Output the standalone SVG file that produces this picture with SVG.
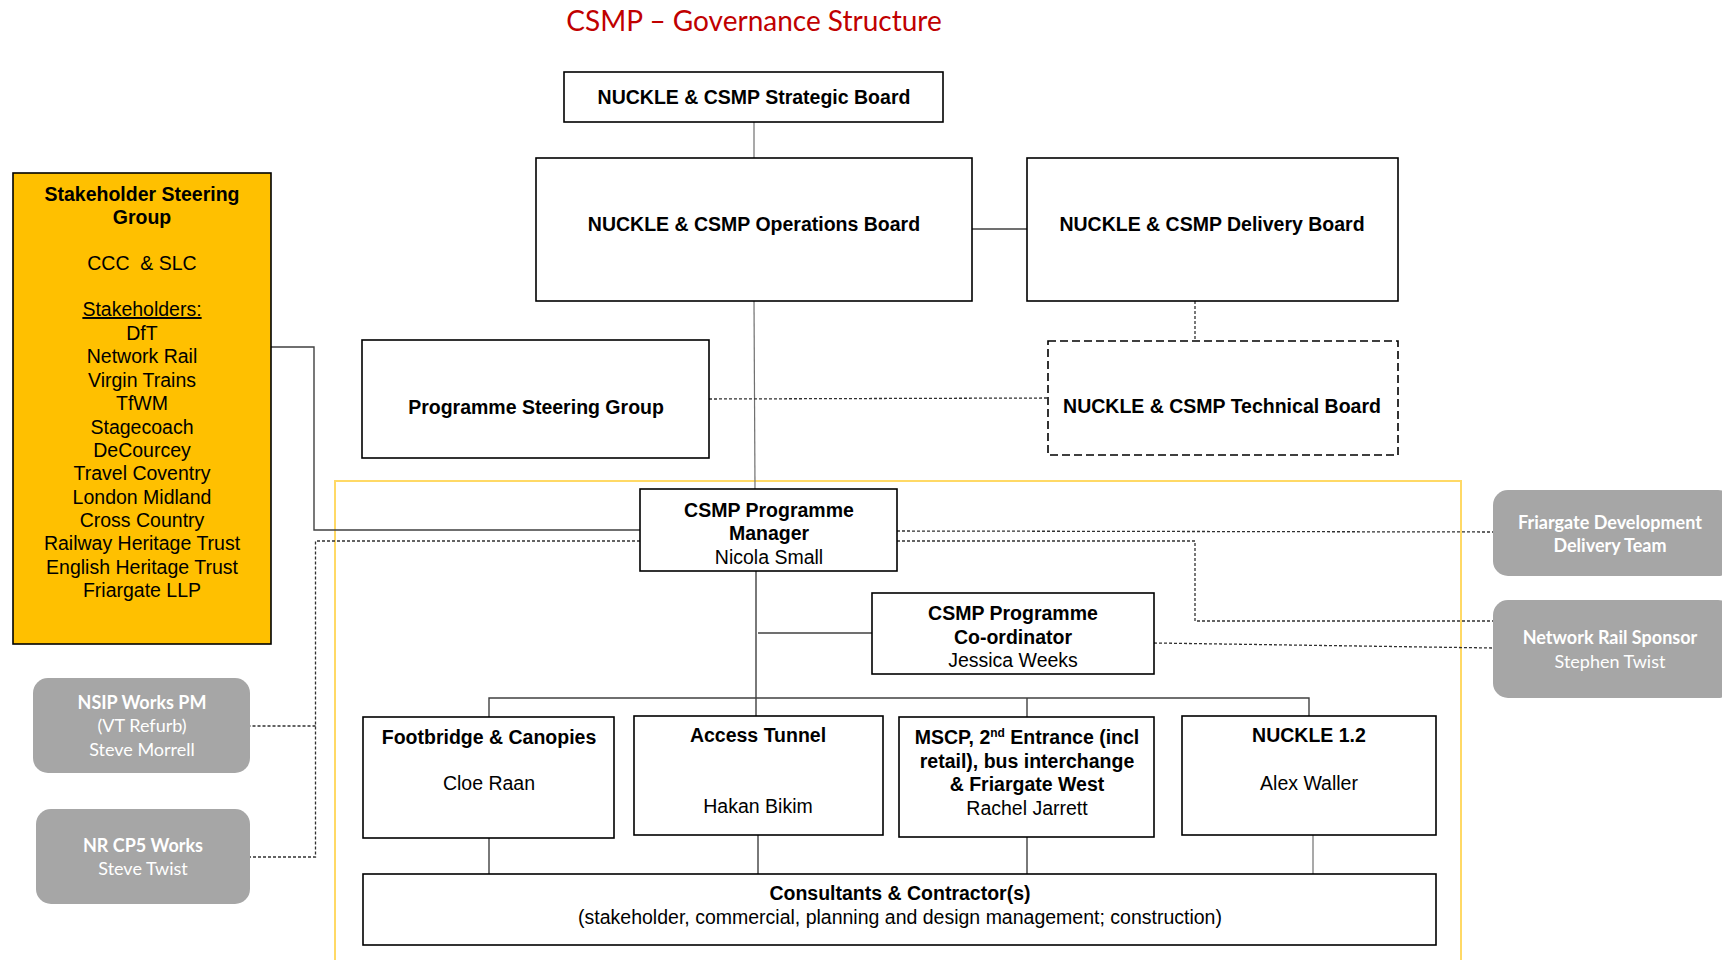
<svg xmlns="http://www.w3.org/2000/svg" width="1722" height="960" viewBox="0 0 1722 960">
<style>
.box{fill:#fff;stroke:#000;stroke-width:1.6}
.dbox{fill:#fff;stroke:#000;stroke-width:1.6;stroke-dasharray:8,4}
.gbox{fill:#A6A6A6;stroke:none}
.t{font-family:"Liberation Sans",Arial,sans-serif;font-size:19.5px;fill:#000;text-anchor:middle}
.b{font-weight:bold}
.g{font-family:Lato,"Open Sans",sans-serif;font-size:18px;fill:#fff;text-anchor:middle}
.ln{stroke:#404040;stroke-width:1.4;fill:none}
.lt{stroke:#707070;stroke-width:1.2;fill:none}
.dl{stroke:#303030;stroke-width:1.3;fill:none;stroke-dasharray:3,2}
</style>
<rect width="1722" height="960" fill="#fff"/>
<text x="754" y="31" font-family="Lato,'Open Sans',sans-serif" font-size="28" fill="#C00000" text-anchor="middle">CSMP – Governance Structure</text>
<rect x="335" y="481" width="1126" height="490" fill="none" stroke="#FFD966" stroke-width="2"/>
<g id="connectors">
<line class="lt" x1="754" y1="122" x2="754" y2="158"/>
<line class="ln" x1="972" y1="229" x2="1027" y2="229"/>
<line class="lt" x1="754" y1="301" x2="755" y2="489"/>
<line class="dl" x1="1195" y1="301" x2="1195" y2="341"/>
<line class="dl" x1="709" y1="399" x2="1048" y2="398"/>
<polyline class="ln" points="271,347 314,347 314,530 640,530"/>
<polyline class="dl" points="640,541 315.5,541 315.5,857 250,857"/>
<line class="dl" x1="315.5" y1="726" x2="250" y2="726"/>
<line class="dl" x1="897" y1="531" x2="1493" y2="532"/>
<polyline class="dl" points="897,541 1195,541 1195,621 1493,621"/>
<line class="dl" x1="1154" y1="643" x2="1493" y2="648"/>
<line class="ln" x1="756" y1="571" x2="756" y2="716"/>
<line class="ln" x1="758" y1="633" x2="872" y2="633"/>
<polyline class="ln" points="489,717 489,698 1309,698 1309,716"/>
<line class="ln" x1="1027" y1="698" x2="1027" y2="717"/>
<line class="ln" x1="489" y1="838" x2="489" y2="874"/>
<line class="ln" x1="758" y1="835" x2="758" y2="874"/>
<line class="ln" x1="1027" y1="837" x2="1027" y2="874"/>
<line class="lt" x1="1313" y1="835" x2="1313" y2="874"/>
</g>
<g id="strategic-board">
<rect class="box" x="564" y="72" width="379" height="50"/>
<text class="t b" x="754" y="104">NUCKLE &amp; CSMP Strategic Board</text>
</g>
<g id="operations-board">
<rect class="box" x="536" y="158" width="436" height="143"/>
<text class="t b" x="754" y="231">NUCKLE &amp; CSMP Operations Board</text>
</g>
<g id="delivery-board">
<rect class="box" x="1027" y="158" width="371" height="143"/>
<text class="t b" x="1212" y="231">NUCKLE &amp; CSMP Delivery Board</text>
</g>
<g id="stakeholder-steering-group">
<rect x="13" y="173" width="258" height="471" fill="#FFC000" stroke="#000" stroke-width="1.6"/>
<text class="t b" x="142" y="201">Stakeholder Steering</text>
<text class="t b" x="142" y="224">Group</text>
<text class="t" x="142" y="270" xml:space="preserve">CCC  &amp; SLC</text>
<text class="t" x="142" y="316" text-decoration="underline">Stakeholders:</text>
<text class="t" x="142" y="340">DfT</text>
<text class="t" x="142" y="363">Network Rail</text>
<text class="t" x="142" y="387">Virgin Trains</text>
<text class="t" x="142" y="410">TfWM</text>
<text class="t" x="142" y="434">Stagecoach</text>
<text class="t" x="142" y="457">DeCourcey</text>
<text class="t" x="142" y="480">Travel Coventry</text>
<text class="t" x="142" y="504">London Midland</text>
<text class="t" x="142" y="527">Cross Country</text>
<text class="t" x="142" y="550">Railway Heritage Trust</text>
<text class="t" x="142" y="574">English Heritage Trust</text>
<text class="t" x="142" y="597">Friargate LLP</text>
</g>
<g id="programme-steering-group">
<rect class="box" x="362" y="340" width="347" height="118"/>
<text class="t b" x="536" y="414">Programme Steering Group</text>
</g>
<g id="technical-board">
<rect class="dbox" x="1048" y="341" width="350" height="114"/>
<text class="t b" x="1222" y="413">NUCKLE &amp; CSMP Technical Board</text>
</g>
<g id="programme-manager">
<rect class="box" x="640" y="489" width="257" height="82"/>
<text class="t b" x="769" y="517">CSMP Programme</text>
<text class="t b" x="769" y="540">Manager</text>
<text class="t" x="769" y="564">Nicola Small</text>
</g>
<g id="programme-coordinator">
<rect class="box" x="872" y="593" width="282" height="81"/>
<text class="t b" x="1013" y="620">CSMP Programme</text>
<text class="t b" x="1013" y="644">Co-ordinator</text>
<text class="t" x="1013" y="667">Jessica Weeks</text>
</g>
<g id="footbridge">
<rect class="box" x="363" y="717" width="251" height="121"/>
<text class="t b" x="489" y="744">Footbridge &amp; Canopies</text>
<text class="t" x="489" y="790">Cloe Raan</text>
</g>
<g id="access-tunnel">
<rect class="box" x="634" y="716" width="249" height="119"/>
<text class="t b" x="758" y="742">Access Tunnel</text>
<text class="t" x="758" y="813">Hakan Bikim</text>
</g>
<g id="mscp">
<rect class="box" x="899" y="717" width="255" height="120"/>
<text class="t b" x="1027" y="744">MSCP, 2<tspan font-size="12" dy="-7">nd</tspan><tspan dy="7"> Entrance (incl</tspan></text>
<text class="t b" x="1027" y="768">retail), bus interchange</text>
<text class="t b" x="1027" y="791">&amp; Friargate West</text>
<text class="t" x="1027" y="815">Rachel Jarrett</text>
</g>
<g id="nuckle-12">
<rect class="box" x="1182" y="716" width="254" height="119"/>
<text class="t b" x="1309" y="742">NUCKLE 1.2</text>
<text class="t" x="1309" y="790">Alex Waller</text>
</g>
<g id="consultants">
<rect class="box" x="363" y="874" width="1073" height="71"/>
<text class="t b" x="900" y="900">Consultants &amp; Contractor(s)</text>
<text class="t" x="900" y="924">(stakeholder, commercial, planning and design management; construction)</text>
</g>
<g id="friargate-team">
<rect class="gbox" x="1493" y="490" width="240" height="86" rx="15"/>
<text class="g b" x="1610" y="529">Friargate Development</text>
<text class="g b" x="1610" y="552">Delivery Team</text>
</g>
<g id="network-rail-sponsor">
<rect class="gbox" x="1493" y="600" width="240" height="98" rx="15"/>
<text class="g b" x="1610" y="644">Network Rail Sponsor</text>
<text class="g" x="1610" y="668">Stephen Twist</text>
</g>
<g id="nsip-works">
<rect class="gbox" x="33" y="678" width="217" height="95" rx="15"/>
<text class="g b" x="142" y="709">NSIP Works PM</text>
<text class="g" x="142" y="732">(VT Refurb)</text>
<text class="g" x="142" y="756">Steve Morrell</text>
</g>
<g id="nr-cp5-works">
<rect class="gbox" x="36" y="809" width="214" height="95" rx="15"/>
<text class="g b" x="143" y="852">NR CP5 Works</text>
<text class="g" x="143" y="875">Steve Twist</text>
</g>
</svg>
